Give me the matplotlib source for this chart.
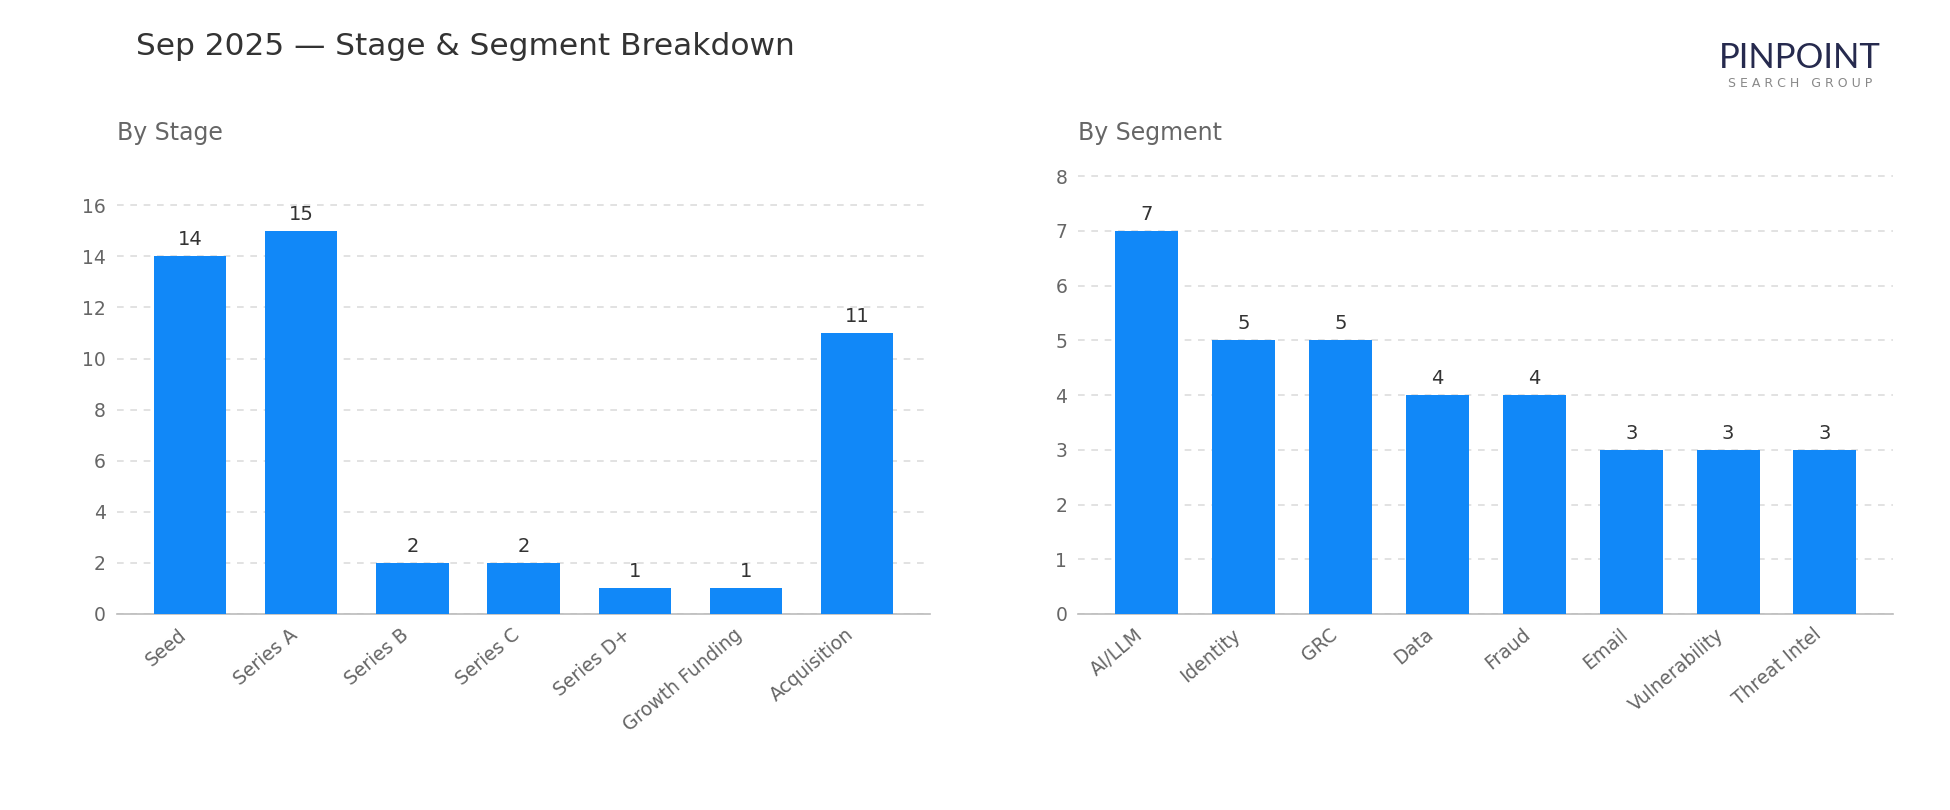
import matplotlib.pyplot as plt

# data
stages = ["Seed", "Series A", "Series B", "Series C", "Series D+", "Growth Funding", "Acquisition"]
stage_counts = [14, 15, 2, 2, 1, 1, 11]

segments = ["AI/LLM", "Identity", "GRC", "Data", "Fraud", "Email", "Vulnerability", "Threat Intel"]
segment_counts = [7, 5, 5, 4, 4, 3, 3, 3]

bar_color = "#1188F8"
grid_color = "#dddddd"
tick_color = "#666666"

fig = plt.figure(figsize=(19.5, 8.1), dpi=100)
ax1 = fig.add_axes([0.060, 0.242, 0.417, 0.544])
ax2 = fig.add_axes([0.553, 0.242, 0.418, 0.544])


def draw_bars(ax, labels, values):
    x = range(len(labels))
    bars = ax.bar(x, values, width=0.65, color=bar_color, zorder=3)
    ax.set_ylim(0, max(values) * 1.15)
    ax.grid(axis="y", color=grid_color, linestyle=(0, (4, 4)), linewidth=1.2, zorder=0)
    ax.set_axisbelow(True)
    for s in ["top", "right", "left"]:
        ax.spines[s].set_visible(False)
    ax.spines["bottom"].set_color("#bbbbbb")
    ax.spines["bottom"].set_linewidth(1.2)
    ax.tick_params(axis="both", length=0, labelsize=13.5, colors=tick_color, pad=8)
    ax.set_xticks(list(x))
    ax.set_xticklabels(labels, rotation=40, ha="right")
    for b, v in zip(bars, values):
        ax.annotate(str(v), (b.get_x() + b.get_width() / 2, v), xytext=(0, 5),
                    textcoords="offset points", ha="center", va="bottom",
                    fontsize=14, color="#333333")


draw_bars(ax1, stages, stage_counts)
draw_bars(ax2, segments, segment_counts)

# titles
fig.text(0.0697, 0.943, "Sep 2025 — Stage & Segment Breakdown", fontsize=22.5,
         color="#333333", va="center", ha="left")
fig.text(0.060, 0.836, "By Stage", fontsize=17, color="#666666", va="center", ha="left")
fig.text(0.553, 0.836, "By Segment", fontsize=17, color="#666666", va="center", ha="left")

# logo
fig.text(0.923, 0.929, "PINPOINT", fontsize=25, color="#262a4e", ha="center",
         va="center", family="Lato")
fig.text(0.923, 0.897, "S E A R C H   G R O U P", fontsize=9, color="#888888",
         ha="center", va="center")

fig.savefig("out.png", dpi=100)
